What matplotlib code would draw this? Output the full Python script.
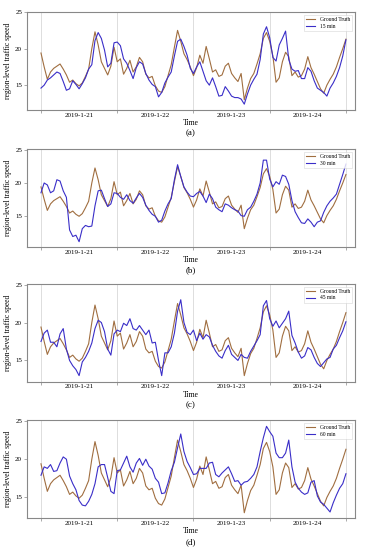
import matplotlib
matplotlib.use("Agg")
import matplotlib.pyplot as plt
import numpy as np

hours = list(range(97))
day_labels = ["2019-1-21", "2019-1-22", "2019-1-23", "2019-1-24"]
panel_tags = ["(a)", "(b)", "(c)", "(d)"]
horizons = ["15 min", "30 min", "45 min", "60 min"]

ground_truth = [19.4, 17.5, 15.8, 16.8, 17.3, 17.6, 17.9, 17.2, 16.4, 15.4, 15.7, 15.2, 14.9, 15.3, 16.2, 17.2,
                20.0, 22.3, 20.5, 18.2, 17.3, 16.4, 17.6, 20.2, 18.2, 18.6, 16.5, 17.3, 18.4, 16.8, 17.5, 18.8,
                18.2, 16.5, 16.0, 16.2, 14.9, 14.2, 14.0, 14.8, 16.3, 17.8, 20.2, 22.5, 21.0, 19.3, 18.5, 17.5,
                16.3, 17.4, 19.1, 18.0, 20.3, 18.6, 16.8, 17.1, 16.2, 16.4, 17.6, 18.0, 16.6, 16.0, 15.5, 16.6,
                13.0, 14.6, 15.9, 16.6, 17.9, 19.3, 21.4, 22.2, 21.0, 19.0, 15.4, 16.0, 18.2, 19.5, 18.9, 16.3,
                16.8, 16.1, 16.3, 17.2, 18.9, 17.4, 16.5, 15.5, 14.5, 13.9, 15.0, 15.8, 16.5, 17.5, 18.8, 20.0, 21.3]

pred_15 = [14.6, 15.0, 15.7, 16.0, 16.4, 16.8, 16.6, 15.5, 14.3, 14.5, 15.6, 15.1, 14.5, 15.2, 16.0, 17.2,
           17.8, 21.1, 22.2, 21.4, 19.8, 17.5, 18.0, 20.8, 20.9, 20.4, 18.6, 18.0, 17.0, 15.9, 17.4, 18.2,
           17.9, 16.6, 15.7, 15.1, 14.8, 13.4, 14.0, 15.3, 16.1, 16.8, 19.0, 21.0, 21.3, 20.3, 19.1, 17.3,
           16.6, 17.5, 18.2, 16.9, 15.6, 15.0, 16.0, 14.8, 13.5, 13.6, 14.8, 14.2, 13.5, 13.3, 13.3, 13.1,
           12.4, 13.8, 15.0, 15.8, 16.5, 18.5, 22.0, 23.0, 21.5, 18.8, 18.3, 20.5, 21.4, 22.4, 18.5, 17.2,
           16.9, 17.0, 15.9, 15.9, 17.4, 16.9, 15.6, 14.6, 14.3, 14.0, 13.5, 14.6, 15.3, 16.2, 17.4, 19.0, 21.2]

pred_30 = [18.5, 20.0, 19.7, 18.5, 18.8, 20.5, 20.3, 18.8, 17.8, 12.8, 11.8, 12.0, 11.0, 13.0, 13.5, 13.3,
           13.4, 16.5, 18.8, 18.9, 17.6, 16.4, 16.8, 18.5, 18.4, 17.8, 17.5, 18.2, 17.3, 16.9, 17.7, 18.4,
           17.8, 16.6, 15.8, 15.2, 14.9, 14.0, 14.3, 15.7, 16.8, 17.6, 20.5, 22.8, 21.0, 19.4, 18.6, 18.0,
           17.9, 18.4, 18.7, 18.0, 17.0, 18.3, 17.6, 16.3, 15.9, 15.6, 16.8, 16.6, 16.2, 15.9, 15.7, 15.0,
           14.9, 15.9, 16.3, 17.2, 18.3, 20.0, 23.5, 23.5, 20.6, 19.4, 20.2, 19.8, 21.2, 21.0, 19.8, 17.3,
           15.6, 14.7, 13.9, 13.8, 14.5, 14.0, 13.3, 14.0, 14.2, 15.5, 16.5, 17.2, 17.7, 18.3, 19.8, 21.3, 22.9]

pred_45 = [17.5, 18.6, 19.0, 17.4, 17.4, 16.8, 18.5, 19.2, 16.5, 15.0, 14.3, 13.8, 13.0, 14.8, 15.4, 16.2,
           17.3, 19.2, 20.3, 20.0, 18.8, 16.5, 15.7, 18.5, 19.0, 18.8, 19.9, 19.6, 20.5, 19.2, 19.0, 19.6,
           19.0, 18.4, 19.0, 17.3, 17.4, 15.0, 13.0, 16.0, 16.0, 16.8, 18.6, 21.5, 23.0, 20.0, 18.7, 18.4,
           19.0, 17.6, 18.6, 17.8, 18.4, 18.1, 17.0, 16.2, 15.6, 15.3, 16.3, 17.0, 15.8, 15.4, 15.0, 15.8,
           15.4, 15.3, 16.2, 16.9, 17.6, 18.4, 22.2, 22.9, 20.5, 19.5, 20.2, 19.3, 19.9, 20.5, 21.5, 18.3,
           17.3, 16.1, 15.3, 15.6, 16.7, 16.4, 15.4, 14.6, 14.2, 14.7, 15.2, 15.4, 16.5, 17.0, 18.0, 18.9, 20.1]

pred_60 = [17.9, 19.0, 18.8, 19.3, 18.4, 18.5, 19.5, 20.3, 20.0, 17.8, 16.8, 16.0, 14.6, 14.0, 13.9, 14.5,
           15.4, 16.8, 19.0, 19.3, 19.3, 17.6, 15.8, 15.5, 18.5, 18.6, 19.5, 20.4, 19.0, 18.3, 19.5, 20.1,
           19.2, 20.0, 19.1, 18.7, 17.5, 17.0, 15.5, 15.6, 16.9, 18.5, 19.6, 21.5, 23.3, 21.0, 19.7, 18.9,
           18.0, 18.1, 18.8, 18.8, 18.8, 19.5, 19.6, 18.0, 17.7, 18.2, 18.6, 19.0, 18.1, 17.1, 17.2, 16.6,
           17.0, 17.1, 17.5, 18.0, 19.0, 21.0, 22.8, 24.3, 23.6, 23.0, 20.8, 20.2, 20.2, 20.8, 22.5, 19.0,
           17.0, 16.2, 15.7, 15.4, 15.6, 17.0, 17.2, 15.2, 14.4, 14.1, 13.6, 13.1, 14.3, 15.3, 16.2, 16.8, 18.1]

predictions = [pred_15, pred_30, pred_45, pred_60]
ylims = [(11.6, 25.0), (10.2, 25.2), (12.2, 25.1), (12.3, 25.1)]

plt.rcParams['font.family'] = ['Liberation Serif', 'DejaVu Serif']

fig = plt.figure(figsize=(3.7, 5.5), dpi=100)
tops = [0.978, 0.729, 0.484, 0.236]
height = 0.178
left, width = 0.073, 0.886

gt_color = '#a06e40'
pred_color = '#3a2ec8'

for i in range(4):
    ax = fig.add_axes([left, tops[i] - height, width, height])
    ax.plot(hours, ground_truth, color=gt_color, lw=0.8, label='Ground Truth')
    ax.plot(hours, predictions[i], color=pred_color, lw=0.8, label=horizons[i])
    ax.set_xlim(-4.4, 98.8)
    ax.set_ylim(*ylims[i])
    ax.set_yticks([15, 20, 25])
    ax.set_xticks([0, 24, 48, 72, 96])
    ax.set_xticklabels([])
    ax.set_xticks([12, 36, 60, 84], minor=True)
    ax.set_xticklabels(day_labels, minor=True)
    ax.tick_params(axis='x', which='minor', length=0, labelsize=5, pad=2)
    ax.tick_params(axis='x', which='major', length=2, width=0.5, color='#888888')
    ax.tick_params(axis='y', labelsize=5, length=2, width=0.5, pad=1.5, color='#888888')
    ax.grid(True, axis='x', which='major', color='#d0d0d0', lw=0.5)
    for s in ax.spines.values():
        s.set_color('#888888')
        s.set_linewidth(0.8)
    ax.set_xlabel('Time', fontsize=5.5, labelpad=1)
    ax.set_ylabel('region-level traffic speed', fontsize=5.5, labelpad=2)
    leg = ax.legend(loc='upper right', fontsize=4, frameon=True, handlelength=1.6,
                    borderpad=0.4, labelspacing=0.3, fancybox=False)
    leg.get_frame().set_linewidth(0.4)
    leg.get_frame().set_edgecolor('#cccccc')
    fig.text(left + width / 2, tops[i] - height - 0.043, panel_tags[i], ha='center', va='center', fontsize=6.5)

fig.savefig('out.png', dpi=100)
